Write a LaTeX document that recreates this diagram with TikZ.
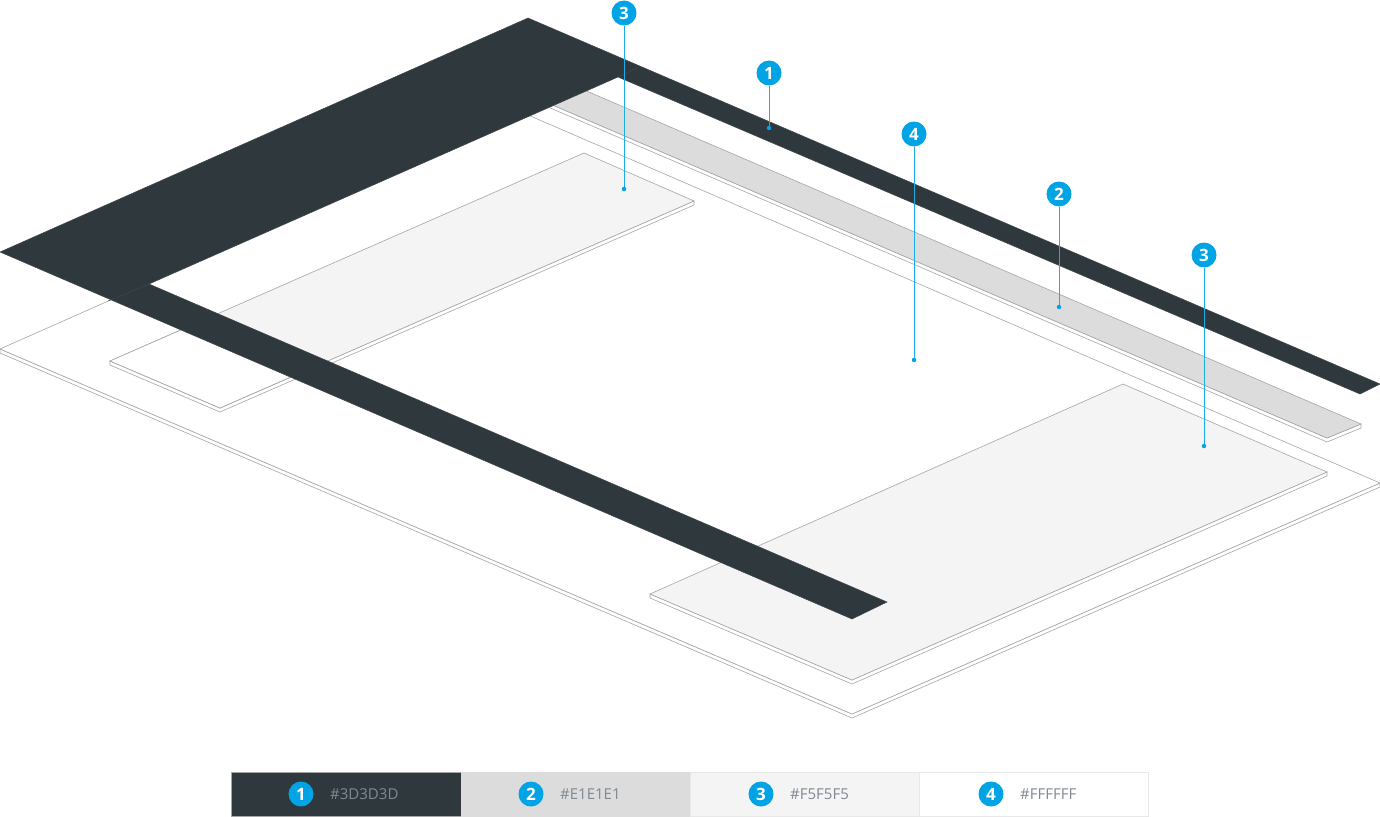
\documentclass[tikz,border=0pt]{standalone}
\usepackage{fontspec}
\setmainfont{Open Sans}
\definecolor{framedark}{HTML}{2F383D}
\definecolor{seamdark}{HTML}{3F484D}
\definecolor{stripgray}{HTML}{DCDCDC}
\definecolor{panelgray}{HTML}{F4F4F4}
\definecolor{edgegray}{HTML}{A6A6A6}
\definecolor{badgeblue}{HTML}{00A4E4}
\definecolor{leaderblue}{HTML}{1AADE8}
\definecolor{hextext}{HTML}{808894}
\tikzset{
  sheet/.style={draw=edgegray,line width=.6pt,line join=miter},
  badge/.style={circle,inner sep=0pt,minimum size=25pt,fill=badgeblue,text=white,font=\fontsize{17}{17}\selectfont\bfseries},
  pin/.style={circle,inner sep=0pt,minimum size=4.5pt,fill=badgeblue},
  leader/.style={draw=leaderblue,line width=.9pt},
  swatch/.style={minimum width=229.5pt,minimum height=43.5pt,inner sep=0pt,outer sep=0pt},
  hex/.style={anchor=west,inner sep=0pt,text=hextext,font=\fontsize{15}{15}\selectfont}
}
\begin{document}
\begin{tikzpicture}[x=1pt,y=-1pt]
  \useasboundingbox (0,0) rectangle (1380,816);
  % bottom sheet
  \draw[sheet,fill=white] (0,349) -- (0,353) -- (852,718) -- (1380,487) -- (1380,483) -- (852,714) -- cycle;
  \draw[sheet,fill=white] (0,349) -- (528,115) -- (1380,483) -- (852,714) -- cycle;
  % left and right panels
  \draw[sheet,fill=white] (110,361) -- (110,365) -- (220,412) -- (694,205) -- (694,201) -- (220,408) -- cycle;
  \draw[sheet,fill=panelgray] (110,361) -- (584,153) -- (694,201) -- (220,408) -- cycle;
  \draw[sheet,fill=white] (110,361) -- (199,322) -- (309,369) -- (220,408) -- cycle;
  \draw[sheet,fill=white] (650,594) -- (650,598) -- (852,684) -- (1327,476) -- (1327,472) -- (852,680) -- cycle;
  \draw[sheet,fill=panelgray] (650,594) -- (1123,384) -- (1327,472) -- (852,680) -- cycle;
  % gray strip
  \draw[sheet,fill=white] (527,94) -- (527,98) -- (1327,442) -- (1361,428) -- (1361,424) -- (1327,438) -- cycle;
  \draw[sheet,fill=stripgray] (527,94) -- (561,80) -- (1361,424) -- (1327,438) -- cycle;
  % dark frame
  \draw[fill=framedark,draw=seamdark,line width=.5pt] (0,252) -- (528,18) -- (1380,384) -- (1360,394) -- (618,77) -- (149,284) -- (887,602) -- (852,619) -- cycle;
  \draw[seamdark,line width=.5pt] (149,284) -- (108,301);
  \draw[seamdark,line width=.5pt] (618,77) -- (637,68);
  % callouts
  \draw(624,13) node[badge] (A) {3};
  \draw(624,189) node[pin] (A1) {};
  \draw(769,73) node[badge] (B) {1};
  \draw(769,128) node[pin] (B1) {};
  \draw(914,134) node[badge] (C) {4};
  \draw(914,360) node[pin] (C1) {};
  \draw(1059,194) node[badge] (D) {2};
  \draw(1059,307) node[pin] (D1) {};
  \draw(1204,255) node[badge] (E) {3};
  \draw(1204,446) node[pin] (E1) {};
  \draw[leader] (A) -- (A1);
  \draw[leader] (B) -- (B1);
  \draw[leader] (C) -- (C1);
  \draw[leader] (D) -- (D1);
  \draw[leader] (E) -- (E1);
  % legend
  \draw(346,794) node[swatch,fill=framedark,draw=edgegray,line width=.5pt] (S1) {};
  \draw(575.5,794) node[swatch,fill=stripgray,draw=stripgray,line width=.5pt] (S2) {};
  \draw(804.5,794) node[swatch,fill=panelgray,draw=panelgray!95!black,line width=.5pt] (S3) {};
  \draw(1033.5,794) node[swatch,fill=white,draw=panelgray!95!black,line width=.5pt] (S4) {};
  \draw(301,794) node[badge] (L1) {1};
  \draw(531,794) node[badge] (L2) {2};
  \draw(761,794) node[badge] (L3) {3};
  \draw(991,794) node[badge] (L4) {4};
  \draw(330,794.5) node[hex] (T1) {\#3D3D3D};
  \draw(560,794.5) node[hex] (T2) {\#E1E1E1};
  \draw(790,794.5) node[hex] (T3) {\#F5F5F5};
  \draw(1020,794.5) node[hex] (T4) {\#FFFFFF};
\end{tikzpicture}
\end{document}
